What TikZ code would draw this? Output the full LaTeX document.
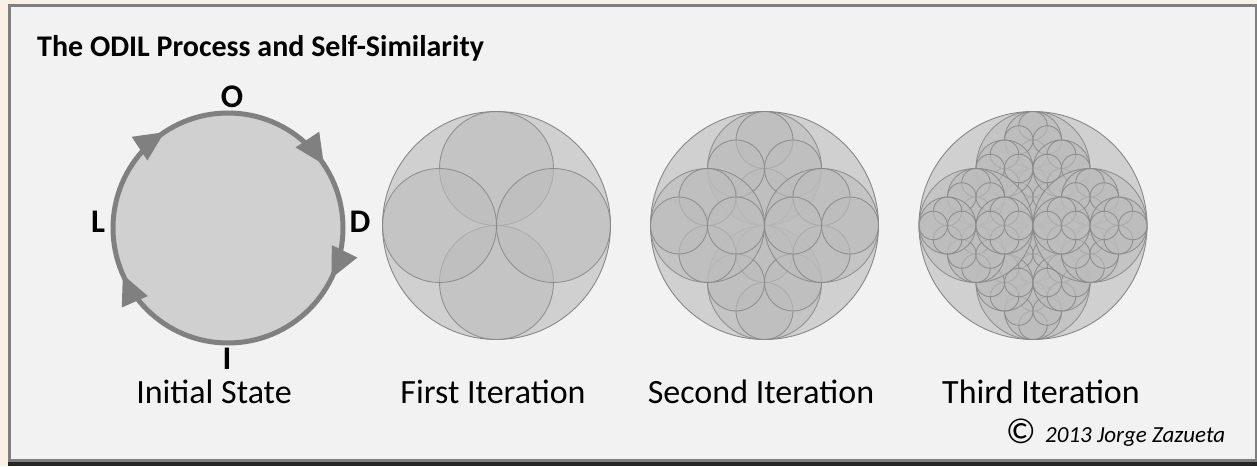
\documentclass[tikz,border=0pt]{standalone}
\usepackage{fontspec}
\setmainfont{Carlito}
\usetikzlibrary{arrows.meta,decorations.markings}
\definecolor{linenbg}{HTML}{FAF0E6}
\definecolor{bordergray}{HTML}{7F7F7F}
\definecolor{panelbg}{HTML}{F2F2F2}
\definecolor{discfill}{HTML}{D0D0D0}
\definecolor{subfill}{HTML}{BDBDBD}
\definecolor{ringgray}{HTML}{808080}
\definecolor{linegray}{HTML}{878787}
\tikzset{
  outercirc/.style={fill=discfill, draw=linegray, line width=0.9pt},
  subcirc/.style={fill=subfill, fill opacity=0.6, draw=linegray, draw opacity=0.85, line width=0.9pt},
  odilletter/.style={font=\fontsize{33}{36}\selectfont\bfseries, inner sep=0pt},
  caption/.style={font=\fontsize{34}{40}\selectfont, anchor=base, inner sep=0pt},
  ringtip/.tip={Triangle[length=30pt,width=27pt]},
}
% depth-first: draw the four children of a circle, each followed by its own children
\newcommand\odiltree[4]{%
  \ifnum#4>0
    \begingroup
    \pgfmathsetmacro\odilhr{#3/2}%
    \pgfmathsetmacro\odilxa{#1+\odilhr}\pgfmathsetmacro\odilxb{#1-\odilhr}%
    \pgfmathsetmacro\odilya{#2+\odilhr}\pgfmathsetmacro\odilyb{#2-\odilhr}%
    \pgfmathtruncatemacro\odildd{#4-1}%
    \edef\odilcalls{%
      \noexpand\odilnode{#1}{\odilya}{\odilhr}{\odildd}%
      \noexpand\odilnode{#1}{\odilyb}{\odilhr}{\odildd}%
      \noexpand\odilnode{\odilxb}{#2}{\odilhr}{\odildd}%
      \noexpand\odilnode{\odilxa}{#2}{\odilhr}{\odildd}}%
    \odilcalls
    \endgroup
  \fi}
\newcommand\odilnode[4]{%
  \filldraw[subcirc] (#1,#2) circle[radius=#3pt];%
  \odiltree{#1}{#2}{#3}{#4}}
\begin{document}
\begin{tikzpicture}[x=1pt,y=1pt]
\useasboundingbox (0,0) rectangle (1257,466);
% frame
\fill[linenbg] (0,0) rectangle (1257,466);
\fill[black!85] (8,0) rectangle (1257,3.7);
\filldraw[fill=panelbg, draw=bordergray, line width=3.3pt] (9.6,5.4) rectangle (1256.6,460.6);
% title
\node[anchor=base west, inner sep=0pt, font=\fontsize{30}{36}\selectfont\bfseries] (title) at (37,409) {The ODIL Process and Self-Similarity};
% initial state
\coordinate (c0) at (228,238);
\fill[discfill] (c0) circle[radius=115pt];
\draw[ringgray, line width=5pt,
  postaction={decorate},
  decoration={markings,
    mark=at position 0.157 with {\arrow{ringtip}},
    mark=at position 0.322 with {\arrow{ringtip}},
    mark=at position 0.684 with {\arrow{ringtip}},
    mark=at position 0.907 with {\arrow{ringtip}}}]
  (c0) ++(90:115) arc[start angle=90, end angle=-270, radius=115pt];
\node[odilletter] (lo) at (232,369) {O};
\node[odilletter] (ld) at (360,244) {D};
\node[odilletter] (li) at (227,107) {I};
\node[odilletter] (ll) at (98,244) {L};
% first iteration
\filldraw[outercirc] (496.5,240.5) circle[radius=114pt];
\odiltree{496.5}{240.5}{114}{1}
% second iteration
\filldraw[outercirc] (764.5,240.5) circle[radius=114pt];
\odiltree{764.5}{240.5}{114}{2}
% third iteration
\filldraw[outercirc] (1033,240.5) circle[radius=114pt];
\odiltree{1033}{240.5}{114}{3}
% captions
\node[caption] (cap0) at (214,63) {Initial State};
\node[caption] (cap1) at (493,63) {First Iteration};
\node[caption] (cap2) at (761,63) {Second Iteration};
\node[caption] (cap3) at (1041,63) {Third Iteration};
% copyright
\node[inner sep=0pt, font=\fontsize{36}{40}\selectfont] (copysym) at (1021,35) {©};
\node[anchor=base west, inner sep=0pt, font=\fontsize{23}{28}\selectfont\itshape] (author) at (1045,24) {2013 Jorge Zazueta};
\end{tikzpicture}
\end{document}
